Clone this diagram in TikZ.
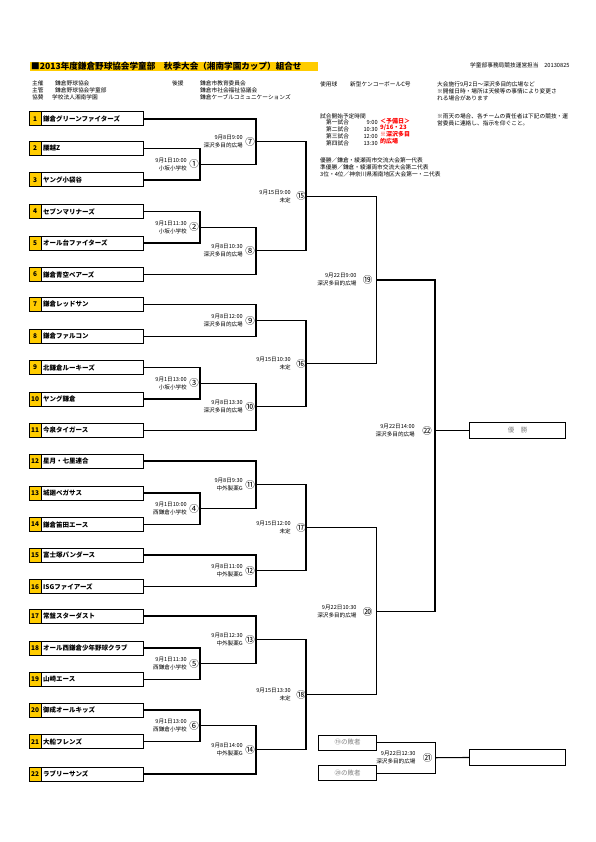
\documentclass[tikz,border=0pt]{standalone}
\usepackage{fontspec}
\setmainfont{Noto Sans CJK JP}
\definecolor{boxyellow}{HTML}{FFCC00}
\definecolor{redtxt}{HTML}{FF0000}
\definecolor{greytxt}{HTML}{808080}
\newcommand\matchinfo[5]{%
  \node[circnum] (c#1) at ([xshift=-#3pt]m#1) {#2};
  \node[datelbl] (d#1) at ([xshift=-#4pt]m#1) {#5};
}
\begin{document}
\begin{tikzpicture}[x=1pt,y=-1pt,
  teambox/.style={draw, line width=1pt, minimum width=114pt, minimum height=14pt, inner sep=0pt},
  numcell/.style={draw, line width=1pt, fill=boxyellow, minimum width=12pt, minimum height=14pt, inner sep=0pt, font=\fontsize{6.5}{7}\selectfont\bfseries},
  teamname/.style={anchor=west, inner sep=0pt, font=\fontsize{6.5}{7}\selectfont\bfseries},
  bracket/.style={line width=1.1pt},
  circnum/.style={inner sep=0pt, font=\fontsize{9.5}{9.5}\selectfont},
  datelbl/.style={anchor=east, align=right, inner sep=0pt, font=\fontsize{5.6}{8}\selectfont},
  hdr/.style={anchor=west, inner sep=0pt, font=\fontsize{5.7}{7}\selectfont},
  redhdr/.style={anchor=west, inner sep=0pt, text=redtxt, font=\fontsize{6}{7}\selectfont\bfseries},
  resbox/.style={draw, line width=1pt, inner sep=0pt, text=greytxt, font=\fontsize{6.5}{7}\selectfont}
]
\useasboundingbox[fill=white] (0,0) rectangle (595,842);

% title
\node[fill=boxyellow, anchor=north west, minimum width=288pt, minimum height=9.5pt, inner sep=0pt] (titlebar) at (30,61.5) {};
\node[anchor=west, inner sep=0pt, font=\fontsize{8.6}{9}\selectfont\bfseries] (title) at (31,66.3) {■2013年度鎌倉野球協会学童部　秋季大会（湘南学園カップ）組合せ};
\node[hdr] (office) at (470,65) {学童部事務局競技運営担当　20130825};

% header block
\node[hdr] (h1a) at (32,83) {主催};
\node[hdr] (h1b) at (55,83) {鎌倉野球協会};
\node[hdr] (h2a) at (32,90) {主管};
\node[hdr] (h2b) at (55,90) {鎌倉野球協会学童部};
\node[hdr] (h3a) at (32,97) {協賛};
\node[hdr] (h3b) at (52,97) {学校法人湘南学園};
\node[hdr] (h4a) at (172,83) {後援};
\node[hdr] (h4b) at (200,83) {鎌倉市教育委員会};
\node[hdr] (h5b) at (200,90) {鎌倉市社会福祉協議会};
\node[hdr] (h6b) at (200,97) {鎌倉ケーブルコミュニケーションズ};
\node[hdr] (h7a) at (320,84) {使用球};
\node[hdr] (h7b) at (350,84) {新型ケンコーボールC号};
\node[hdr] (h8) at (437,84) {大会施行9月2日～深沢多目的広場など};
\node[hdr] (h9) at (437,91.5) {※開催日時・場所は天候等の事情により変更さ};
\node[hdr] (h10) at (437,98.5) {れる場合があります};

% schedule
\node[hdr] (s0) at (320,116) {試合開始予定時間};
\node[hdr] (s1) at (326,122.5) {第一試合};
\node[hdr] (s2) at (326,129.5) {第二試合};
\node[hdr] (s3) at (326,136.5) {第三試合};
\node[hdr] (s4) at (326,143.5) {第四試合};
\node[hdr, anchor=east] (s1t) at (378,122.5) {9:00};
\node[hdr, anchor=east] (s2t) at (378,129.5) {10:30};
\node[hdr, anchor=east] (s3t) at (378,136.5) {12:00};
\node[hdr, anchor=east] (s4t) at (378,143.5) {13:30};
\node[redhdr] (r1) at (380,121) {＜予備日＞};
\node[redhdr] (r2) at (380,127.5) {9/16・23};
\node[redhdr] (r3) at (380,134.5) {※深沢多目};
\node[redhdr] (r4) at (380,141) {的広場};
\node[hdr] (rain1) at (437,116) {※雨天の場合、各チームの責任者は下記の競技・運};
\node[hdr] (rain2) at (437,123) {営委員に連絡し、指示を仰ぐこと。};
\node[hdr] (q1) at (320,160) {優勝／鎌倉・綾瀬両市交流大会第一代表};
\node[hdr] (q2) at (320,167) {準優勝／鎌倉・綾瀬両市交流大会第二代表};
\node[hdr] (q3) at (320,174) {3位・4位／神奈川県湘南地区大会第一・二代表};

% teams
\foreach \i/\y/\nm in {1/119/鎌倉グリーンファイターズ, 2/148.5/腰越Z, 3/180/ヤング小袋谷,
  4/211.5/セブンマリナーズ, 5/243/オール台ファイターズ, 6/274.5/鎌倉青空ベアーズ,
  7/304.5/鎌倉レッドサン, 8/336.3/鎌倉ファルコン, 9/367.5/北鎌倉ルーキーズ,
  10/399/ヤング鎌倉, 11/430.5/今泉タイガース, 12/461/星月・七里連合,
  13/493/城廻ペガサス, 14/524.5/鎌倉笛田エース, 15/555/富士塚パンダース,
  16/586.7/ISGファイアーズ, 17/616/常盤スターダスト, 18/648/オール西鎌倉少年野球クラブ,
  19/679.5/山崎エース, 20/710/御成オールキッズ, 21/741.7/大船フレンズ, 22/774/ラブリーサンズ}{
  \node[teambox] (t\i) at (86,\y) {};
  \node[numcell, anchor=west] (n\i) at (t\i.west) {\i};
  \node[teamname] (nm\i) at (43,\y) {\nm};
}

% match points
\coordinate (m1) at (200,164.25);
\coordinate (m2) at (200,227.25);
\coordinate (m3) at (200,383.25);
\coordinate (m4) at (200,508.75);
\coordinate (m5) at (200,663.75);
\coordinate (m6) at (200,725.85);
\coordinate (m7) at (256,141.6);
\coordinate (m8) at (256,250.9);
\coordinate (m9) at (256,320.4);
\coordinate (m10) at (256,406.9);
\coordinate (m11) at (256,484.9);
\coordinate (m12) at (256,570.85);
\coordinate (m13) at (256,639.9);
\coordinate (m14) at (256,749.9);
\coordinate (m15) at (306,196.25);
\coordinate (m16) at (306,363.65);
\coordinate (m17) at (306,527.9);
\coordinate (m18) at (306,694.9);
\coordinate (m19) at (376.7,279.95);
\coordinate (m20) at (376.7,611.4);
\coordinate (m22) at (435,430.5);
\coordinate (m21) at (435.7,757.7);

% result boxes
\node[resbox, minimum width=96pt, minimum height=15.6pt] (champ) at (517.5,430.5) {優　勝};
\node[resbox, minimum width=96pt, minimum height=16.4pt] (third) at (517.5,757.5) {};
\node[resbox, minimum width=58.4pt, minimum height=15pt] (l19) at (347.5,742.5) {⑲の敗者};
\node[resbox, minimum width=58.4pt, minimum height=15pt] (l20) at (347.5,773.3) {⑳の敗者};

% brackets
\draw[bracket] (t2.east) -| (m1) |- (t3.east);
\draw[bracket] (t4.east) -| (m2) |- (t5.east);
\draw[bracket] (t9.east) -| (m3) |- (t10.east);
\draw[bracket] (t13.east) -| (m4) |- (t14.east);
\draw[bracket] (t18.east) -| (m5) |- (t19.east);
\draw[bracket] (t20.east) -| (m6) |- (t21.east);
\draw[bracket] (t1.east) -| (m7) |- (m1);
\draw[bracket] (m2) -| (m8) |- (t6.east);
\draw[bracket] (t7.east) -| (m9) |- (t8.east);
\draw[bracket] (m3) -| (m10) |- (t11.east);
\draw[bracket] (t12.east) -| (m11) |- (m4);
\draw[bracket] (t15.east) -| (m12) |- (t16.east);
\draw[bracket] (t17.east) -| (m13) |- (m5);
\draw[bracket] (m6) -| (m14) |- (t22.east);
\draw[bracket] (m7) -| (m15) |- (m8);
\draw[bracket] (m9) -| (m16) |- (m10);
\draw[bracket] (m11) -| (m17) |- (m12);
\draw[bracket] (m13) -| (m18) |- (m14);
\draw[bracket] (m15) -| (m19) |- (m16);
\draw[bracket] (m17) -| (m20) |- (m18);
\draw[bracket] (m19) -| (m22) |- (m20);
\draw[bracket] (m22) -- (champ.west);
\draw[bracket] (l19.east) -| (m21) |- (l20.east);
\draw[bracket] (m21) -- (third.west);

% match labels
\matchinfo{1}{①}{6}{13}{9月1日10:00\\小坂小学校}
\matchinfo{2}{②}{6}{13}{9月1日11:30\\小坂小学校}
\matchinfo{3}{③}{6}{13}{9月1日13:00\\小坂小学校}
\matchinfo{4}{④}{6}{13}{9月1日10:00\\西鎌倉小学校}
\matchinfo{5}{⑤}{6}{13}{9月1日11:30\\西鎌倉小学校}
\matchinfo{6}{⑥}{6}{13}{9月1日13:00\\西鎌倉小学校}
\matchinfo{7}{⑦}{6}{13}{9月8日9:00\\深沢多目的広場}
\matchinfo{8}{⑧}{6}{13}{9月8日10:30\\深沢多目的広場}
\matchinfo{9}{⑨}{6}{13}{9月8日12:00\\深沢多目的広場}
\matchinfo{10}{⑩}{6}{13}{9月8日13:30\\深沢多目的広場}
\matchinfo{11}{⑪}{6}{13}{9月8日9:30\\中外製薬G}
\matchinfo{12}{⑫}{6}{13}{9月8日11:00\\中外製薬G}
\matchinfo{13}{⑬}{6}{13}{9月8日12:30\\中外製薬G}
\matchinfo{14}{⑭}{6}{13}{9月8日14:00\\中外製薬G}
\matchinfo{15}{⑮}{5}{15}{9月15日9:00\\未定}
\matchinfo{16}{⑯}{5}{15}{9月15日10:30\\未定}
\matchinfo{17}{⑰}{5}{15}{9月15日12:00\\未定}
\matchinfo{18}{⑱}{5}{15}{9月15日13:30\\未定}
\matchinfo{19}{⑲}{9}{20}{9月22日9:00\\深沢多目的広場}
\matchinfo{20}{⑳}{9}{20}{9月22日10:30\\深沢多目的広場}
\matchinfo{21}{㉑}{8}{20}{9月22日12:30\\深沢多目的広場}
\matchinfo{22}{㉒}{8}{20}{9月22日14:00\\深沢多目的広場}
\end{tikzpicture}
\end{document}
